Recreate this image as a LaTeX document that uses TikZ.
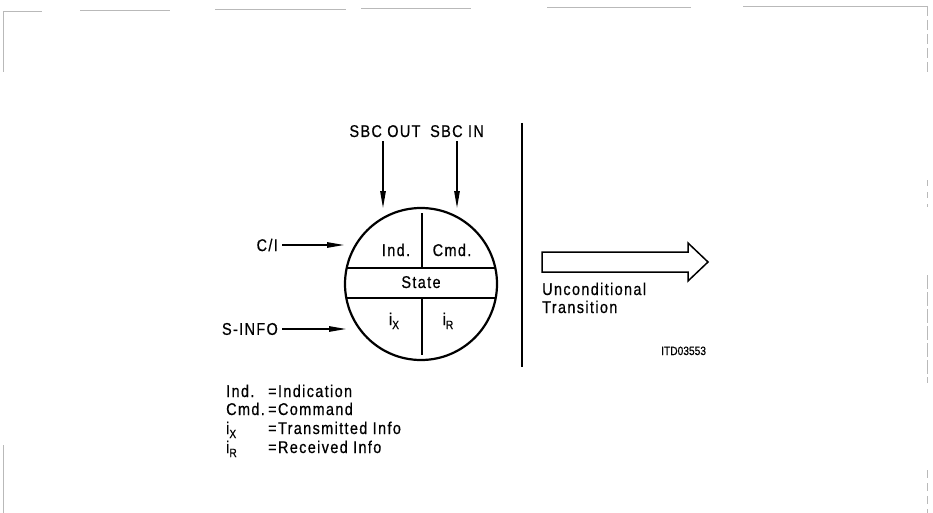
\documentclass[tikz,border=0pt]{standalone}
\usepackage{fontspec}
\setmainfont[LetterSpace=8, FakeStretch=0.85, FakeBold=0.6]{Liberation Sans}
\newfontfamily\smallfont[FakeStretch=0.85, FakeBold=0.6]{Liberation Sans}
\usetikzlibrary{arrows.meta}
\tikzset{
  lbl/.style={inner sep=0pt, font=\fontsize{17}{17}\selectfont},
  legend/.style={inner sep=0pt, anchor=base west, font=\fontsize{17}{17}\selectfont},
  inarrow/.style={line width=1.2pt, -{Triangle[length=17pt,width=5.5pt]}},
  divider/.style={line width=1.6pt},
  scan/.style={gray!55, line width=0.9pt},
}
\newcommand{\subx}[1]{i\raisebox{-0.45ex}{\fontsize{12}{12}\selectfont #1}}
\begin{document}
\begin{tikzpicture}[x=1pt,y=-1pt]
\useasboundingbox (0,0) rectangle (933,513);
% scan edge fragments
\draw[scan] (3,72) -- (3,11) -- (42,11);
\draw[scan] (80,10) -- (170,10);
\draw[scan] (215,9) -- (346,9);
\draw[scan] (361,8) -- (471,8);
\draw[scan] (547,7) -- (691,7);
\draw[scan] (743,6) -- (927,6);
\draw[scan, dash pattern=on 10pt off 4pt] (927,6) -- (927,75);
\draw[scan, dash pattern=on 6pt off 6pt] (927,180) -- (927,207);
\draw[scan, dash pattern=on 14pt off 3pt] (927,275) -- (927,383);
\draw[scan, dash pattern=on 8pt off 5pt] (927,470) -- (927,513);
\draw[scan] (3,445) -- (3,513);

% circle and its parts
\node[circle, draw, line width=2.2pt, minimum size=152pt, inner sep=0pt] (c) at (421,284) {};
\begin{scope}
  \clip (421,284) circle (76pt);
  \draw[divider] (340,268) -- (500,268);
  \draw[divider] (340,298) -- (500,298);
\end{scope}
\draw[divider] (422,213) -- (422,268);
\draw[divider] (422,298) -- (422,355);

\node[lbl, anchor=base] (ind) at (396,256) {Ind.};
\node[lbl, anchor=base] (cmd) at (452,256) {Cmd.};
\node[lbl, anchor=base] (state) at (421,288) {State};
\node[lbl, anchor=base] (ix) at (394,325) {\subx{X}};
\node[lbl, anchor=base] (ir) at (448,325) {\subx{R}};

% inputs
\node[lbl, anchor=base] (sbcout) at (385,137) {SBC OUT};
\node[lbl, anchor=base] (sbcin) at (457,137) {SBC IN};
\coordinate (outEnd) at (383,208);
\coordinate (inEnd) at (457,208);
\draw[inarrow] (sbcout.south -| outEnd) ++(0,4) -- (outEnd);
\draw[inarrow] (sbcin.south -| inEnd) ++(0,4) -- (inEnd);

\node[lbl, anchor=east] (ci) at (278,245) {C/I};
\node[lbl, anchor=east] (sinfo) at (278,329) {S-INFO};
\coordinate (ciEnd) at (344,245);
\coordinate (sinfoEnd) at (346,329);
\draw[inarrow] ([xshift=4pt]ci.east) -- (ciEnd);
\draw[inarrow] ([xshift=4pt]sinfo.east) -- (sinfoEnd);

% separator
\coordinate (sepTop) at (522,123);
\coordinate (sepBot) at (522,367);
\draw[line width=2.6pt] (sepTop) -- (sepBot);

% big transition arrow
\draw[line width=1.5pt, line join=miter] (542,252) -- (688,252) -- (688,243) -- (708,262) -- (688,281) -- (688,272) -- (542,272) -- cycle;
\node[lbl, anchor=base west] (uncond) at (542,295) {Unconditional};
\node[lbl, anchor=base west] (trans) at (542,313) {Transition};
\node[inner sep=0pt, anchor=base west, font=\smallfont\fontsize{12}{12}\selectfont] (itd) at (661,355) {ITD03553};

% legend
\node[legend] (l1a) at (226,397) {Ind.};
\node[legend] (l1b) at (268,397) {=Indication};
\node[legend] (l2a) at (226,415) {Cmd.};
\node[legend] (l2b) at (268,415) {=Command};
\node[legend] (l3a) at (226,434) {\subx{X}};
\node[legend] (l3b) at (268,434) {=Transmitted Info};
\node[legend] (l4a) at (226,453) {\subx{R}};
\node[legend] (l4b) at (268,453) {=Received Info};
\end{tikzpicture}
\end{document}
